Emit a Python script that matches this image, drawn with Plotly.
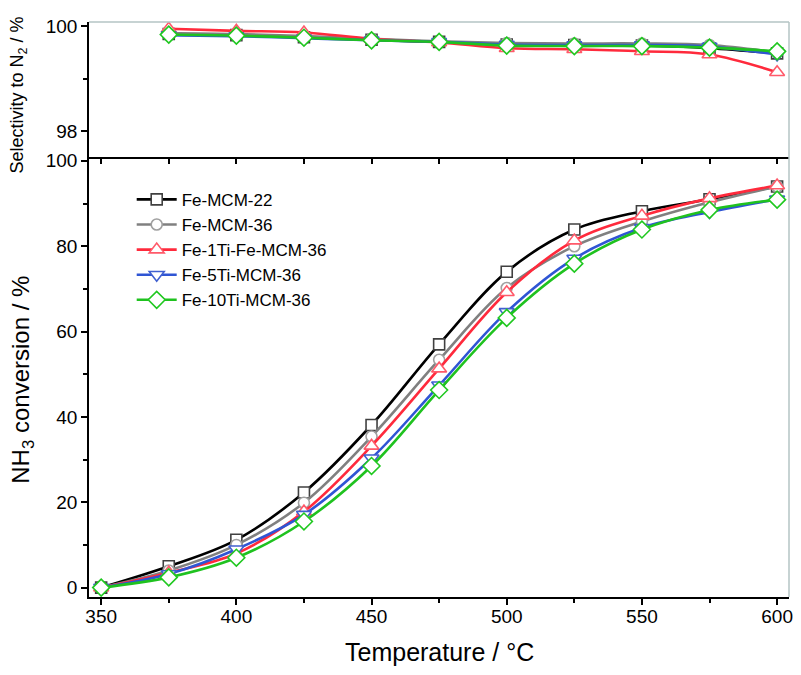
import plotly.graph_objects as go

temps = [350, 375, 400, 425, 450, 475, 500, 525, 550, 575, 600]
sel_temps = [375, 400, 425, 450, 475, 500, 525, 550, 575, 600]

names = ["Fe-MCM-22", "Fe-MCM-36", "Fe-1Ti-Fe-MCM-36", "Fe-5Ti-MCM-36", "Fe-10Ti-MCM-36"]

conv_mcm22 = [0, 5.0, 11.2, 22.3, 38.1, 57.0, 74.0, 83.9, 88.2, 91.0, 94.0]
conv_mcm36 = [0, 4.0, 10.0, 19.9, 35.4, 53.4, 70.2, 80.0, 85.8, 90.3, 94.0]
conv_1ti = [0, 3.5, 8.0, 17.8, 33.2, 51.3, 69.2, 81.3, 87.1, 91.2, 94.2]
conv_5ti = [0, 3.2, 9.0, 17.1, 30.3, 47.4, 64.6, 77.1, 84.3, 88.0, 91.0]
conv_10ti = [0, 2.4, 7.0, 15.5, 28.5, 46.3, 63.2, 75.9, 83.9, 88.5, 90.9]

sel_mcm22 = [99.85, 99.83, 99.79, 99.74, 99.70, 99.65, 99.64, 99.63, 99.58, 99.48]
sel_mcm36 = [99.87, 99.85, 99.81, 99.76, 99.71, 99.68, 99.67, 99.67, 99.64, 99.50]
sel_1ti = [99.95, 99.91, 99.88, 99.76, 99.69, 99.58, 99.56, 99.52, 99.46, 99.12]
sel_5ti = [99.83, 99.81, 99.77, 99.73, 99.70, 99.65, 99.64, 99.64, 99.61, 99.46]
sel_10ti = [99.84, 99.82, 99.78, 99.73, 99.70, 99.63, 99.62, 99.62, 99.59, 99.52]

conv = [conv_mcm22, conv_mcm36, conv_1ti, conv_5ti, conv_10ti]
sel = [sel_mcm22, sel_mcm36, sel_1ti, sel_5ti, sel_10ti]

line_colors = ["#000000", "#808080", "#ff2a3c", "#2f55d4", "#1fc21f"]
marker_lines = ["#404040", "#a0a0a0", "#ff5a6a", "#4060d0", "#20c820"]
symbols = ["square", "circle", "triangle-up", "triangle-down", "diamond"]
msizes = [11, 11, 13, 13, 13]

FONT = "Liberation Sans, Arial, sans-serif"

fig = go.Figure()
for i in range(5):
    fig.add_trace(go.Scatter(
        x=temps, y=conv[i], name=names[i], mode="lines+markers",
        line=dict(color=line_colors[i], width=2.6, shape="spline", smoothing=1.0),
        marker=dict(symbol=symbols[i], size=msizes[i], color="white",
                    line=dict(color=marker_lines[i], width=1.6)),
        xaxis="x", yaxis="y"))
for i in range(5):
    fig.add_trace(go.Scatter(
        x=sel_temps, y=sel[i], name=names[i], mode="lines+markers", showlegend=False,
        line=dict(color=line_colors[i], width=2.6, shape="spline", smoothing=1.0),
        marker=dict(symbol=symbols[i], size=msizes[i], color="white",
                    line=dict(color=marker_lines[i], width=1.6)),
        xaxis="x2", yaxis="y2"))

split = 0.766
ax_common = dict(showgrid=False, zeroline=False, showline=True, linecolor="black", linewidth=1.5,
                 ticks="outside", ticklen=6, tickwidth=1.5, tickcolor="black",
                 tickfont=dict(family=FONT, size=19, color="black"))

# page has an 8px body margin; figure sized to fit the 801x675 window
fig.update_layout(
    width=793, height=667,
    margin=dict(l=81, r=8, t=13, b=78),
    paper_bgcolor="white", plot_bgcolor="white",
    xaxis=dict(**ax_common, range=[345.5, 604.4], dtick=50, tick0=350, anchor="y",
               ticklabelstandoff=-5,
               minor=dict(dtick=25, tick0=350, ticks="outside", ticklen=4, tickwidth=1.5, tickcolor="black")),
    xaxis2=dict(**ax_common, range=[345.5, 604.4], dtick=25, tick0=350, anchor="y2",
                showticklabels=False, matches="x"),
    yaxis=dict(**ax_common, range=[-2.2, 101], dtick=20, tick0=0, domain=[0, split], anchor="x",
               minor=dict(dtick=10, tick0=0, ticks="outside", ticklen=4, tickwidth=1.5, tickcolor="black")),
    yaxis2=dict(**ax_common, range=[97.51, 100.08], dtick=2, tick0=98, domain=[split, 1], anchor="x2",
                minor=dict(dtick=1, tick0=98, ticks="outside", ticklen=4, tickwidth=1.5, tickcolor="black")),
    legend=dict(x=0.061, y=0.722, xanchor="left", yanchor="top", bgcolor="rgba(0,0,0,0)",
                font=dict(family=FONT, size=17, color="black"), tracegroupgap=0, itemwidth=40),
    showlegend=True,
    shapes=[
        dict(type="line", xref="paper", yref="paper", x0=0, x1=1, y0=1, y1=1,
             line=dict(color="#b4c4c4", width=1.5)),
        dict(type="line", xref="paper", yref="paper", x0=1, x1=1, y0=0, y1=1,
             line=dict(color="#b4c4c4", width=1.5)),
    ],
    annotations=[
        dict(text="Temperature / °C", xref="paper", yref="paper", x=0.5, y=-0.0955,
             xanchor="center", yanchor="middle", showarrow=False,
             font=dict(family=FONT, size=25, color="black")),
        dict(text="NH<sub>3</sub> conversion / %", xref="paper", yref="paper", x=-0.095, y=0.377,
             xanchor="center", yanchor="middle", showarrow=False, textangle=-90,
             font=dict(family=FONT, size=24, color="black")),
        dict(text="Selectivity to N<sub>2</sub> / %", xref="paper", yref="paper", x=-0.1, y=0.872,
             xanchor="center", yanchor="middle", showarrow=False, textangle=-90,
             font=dict(family=FONT, size=18, color="black")),
    ],
)

fig.write_html("out.html")
